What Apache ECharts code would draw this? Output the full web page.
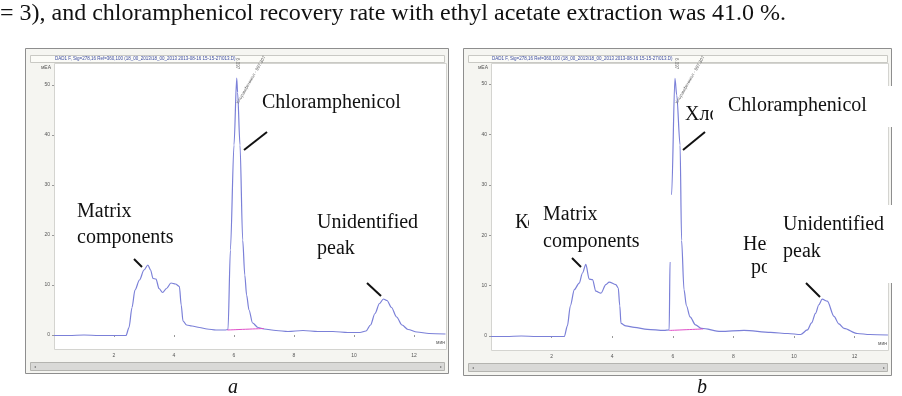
<!DOCTYPE html>
<html>
<head>
<meta charset="utf-8">
<script src="https://cdn.jsdelivr.net/npm/echarts@6/dist/echarts.min.js"></script>
<style>
  html, body { margin: 0; padding: 0; background: #fff; }
  #chart { width: 902px; height: 396px; }
</style>
</head>
<body>
<div id="chart"></div>
<script>
// chromatogram a (minutes, mAU)
const timeA = [0, 0.5, 1.0, 1.5, 2.0, 2.4, 2.5, 2.6, 2.7, 2.85, 3.0, 3.13, 3.22, 3.3, 3.4, 3.5, 3.62, 3.75, 3.9, 4.05, 4.18, 4.24, 4.3, 4.42, 4.6, 4.85, 5.1, 5.4, 5.7, 5.8, 5.88, 6.0, 6.09, 6.12, 6.2, 6.29, 6.36, 6.42, 6.5, 6.62, 6.8, 7.0, 7.4, 7.8, 8.3, 8.8, 9.3, 9.8, 10.2, 10.4, 10.55, 10.7, 10.85, 10.98, 11.1, 11.25, 11.42, 11.6, 11.8, 12.1, 12.5, 13.05]
const signalA = [-0.1, -0.1, 0, -0.1, -0.1, -0.1, 1.5, 5.5, 9.0, 11.0, 13.0, 14.0, 13.0, 11.3, 11.2, 9.3, 8.5, 9.3, 10.4, 10.2, 9.7, 6.0, 2.8, 2.0, 1.8, 1.5, 1.2, 1.0, 1.0, 1.1, 17, 38, 51.4, 48.5, 38, 19, 12, 8, 5, 2.4, 1.5, 1.2, 0.9, 0.7, 0.9, 0.7, 0.7, 0.5, 0.5, 0.8, 2.0, 4.3, 6.3, 7.2, 6.9, 5.5, 3.6, 2.0, 1.1, 0.6, 0.3, 0.2]
const baseTimeA = [5.78, 7.0]
const baseSignalA = [1.0, 1.3]

// chromatogram b
const timeB = [0, 0.5, 1.0, 1.5, 2.0, 2.42, 2.52, 2.62, 2.75, 2.91, 3.02, 3.13, 3.24, 3.35, 3.46, 3.63, 3.79, 3.9, 4.12, 4.2, 4.25, 4.29, 4.45, 4.73, 5.16, 5.71, 5.88, 5.91, 5.96, 6.07, 6.13, 6.24, 6.29, 6.37, 6.45, 6.57, 6.75, 6.95, 7.58, 8.35, 9.23, 9.8, 10.22, 10.44, 10.58, 10.71, 10.82, 10.93, 11.1, 11.32, 11.48, 11.65, 12.09, 12.5, 13.1]
const signalB = [-0.1, -0.1, 0, -0.1, -0.1, -0.1, 2.0, 6.0, 9.2, 10.5, 12.5, 14.2, 11.3, 11.2, 8.9, 8.5, 10.2, 10.7, 10.2, 9.5, 6.0, 2.5, 2.0, 1.7, 1.3, 1.1, 1.2, 15, 28, 51.1, 47.8, 37.9, 19, 9.2, 6.0, 3.8, 2.2, 1.5, 0.9, 1.1, 0.7, 0.5, 0.3, 1.2, 2.6, 4.5, 6.2, 7.3, 6.9, 3.9, 2.4, 1.5, 0.5, 0.3, 0.2]
const baseTimeB = [5.88, 7.0]
const baseSignalB = [1.1, 1.4]

// tick labels
const xTicks = [2, 4, 6, 8, 10, 12]
const yTicks = [0, 10, 20, 30, 40, 50]

const sentence = '= 3), and chloramphenicol recovery rate with ethyl acetate extraction was 41.0 %.'
const headerText = 'DAD1 F, Sig=278,16 Ref=360,100 (18_00_2013\\18_00_2013 2013-08-16 15-15-27\\013.D)'
const peakTime = '6.097'
const peakName = 'Хлорамфеникол - 997.307'

const chart = echarts.init(document.getElementById('chart'))

const serif = '"Liberation Serif", "Times New Roman", serif'
const lineColor = '#7b80d8'

function pairs(xs, ys) {
  return xs.map(function(x, i) { return [x, ys[i]] })
}

function rect(x, y, w, h, fill, stroke, z) {
  return {type: 'rect', z: z, silent: true, shape: {x: x, y: y, width: w, height: h},
    style: {fill: fill, stroke: stroke || null, lineWidth: 1}}
}
function seg(x1, y1, x2, y2, color, w, z) {
  return {type: 'line', z: z, silent: true, shape: {x1: x1, y1: y1, x2: x2, y2: y2},
    style: {stroke: color, lineWidth: w}}
}
function label(text, x, y, opts) {
  opts = opts || {}
  return {type: 'text', z: opts.z || 50, silent: true, x: x, y: y, rotation: opts.rotation || 0,
    style: {text: text, font: opts.font || ('20px ' + serif), fill: opts.fill || '#111',
      textAlign: opts.align || 'left', textVerticalAlign: 'middle'}}
}

// window frame around a chromatogram
function frame(L, R, T, B, plotL, plotR, plotB, scrollT) {
  return [
    rect(L + 0.5, T + 0.5, R - L, B - T, '#f5f5f1', '#8e8e8e', -10),
    rect(L + 5.5, 55.5, R - L - 9, 7, '#fbfbf7', '#c9c9c4', -9),
    rect(plotL + 0.5, 63.5, plotR - plotL, plotB - 63, '#ffffff', '#d4d4d0', -9),
    rect(L + 5.5, scrollT + 0.5, R - L - 9, 8, '#d9d9d7', '#b4b4b0', -9),
    label(headerText, plotL + 1, 59, {font: '4.5px Arial', fill: '#3a4aa0', z: -8}),
    label('\u25C2', L + 9, scrollT + 4.5, {font: '4px Arial', fill: '#777', z: -8}),
    label('\u25B8', R - 8, scrollT + 4.5, {font: '4px Arial', fill: '#777', z: -8})
  ]
}

const graphics = [].concat(
  frame(25, 448, 48, 373, 54, 446, 349, 362),
  frame(463, 891, 48, 375, 491, 888, 350, 363),
  [
    label(sentence, 0, 14, {font: '24px ' + serif}),
    label('a', 233, 388, {font: 'italic 20px ' + serif, align: 'center'}),
    label('b', 702, 388, {font: 'italic 20px ' + serif, align: 'center'}),

    // tiny peak annotations
    label(peakTime, 237, 58, {font: '4.5px Arial', fill: '#666', rotation: -Math.PI / 2, z: 5}),
    label(peakName, 251, 80, {font: '4.5px Arial', fill: '#666', rotation: Math.PI / 3, align: 'center', z: 5}),
    label(peakTime, 676, 58, {font: '4.5px Arial', fill: '#666', rotation: -Math.PI / 2, z: 5}),
    label(peakName, 690, 80, {font: '4.5px Arial', fill: '#666', rotation: Math.PI / 3, align: 'center', z: 5}),

    // panel a labels
    label('Chloramphenicol', 262, 103),
    label('Matrix', 77, 212),
    label('components', 77, 238),
    label('Unidentified', 317, 223),
    label('peak', 317, 249),
    seg(244, 150, 267, 132, '#111', 2, 50),
    seg(134, 259, 142, 267, '#111', 2, 50),
    seg(367, 283, 381, 296, '#111', 2, 50),

    // panel b: original russian labels partly covered by white boxes
    label('Хлорамфеникол', 685, 115, {z: 40}),
    label('Компоненты', 515, 223, {z: 40}),
    label('Неидентифици-', 743, 245, {z: 40}),
    label('рованный пик', 751, 268, {z: 40}),
    rect(713, 86, 190, 41, '#ffffff', null, 45),
    rect(529, 195, 148, 67, '#ffffff', null, 45),
    rect(767, 205, 136, 78, '#ffffff', null, 45),
    label('Chloramphenicol', 728, 106),
    label('Matrix', 543, 215),
    label('components', 543, 242),
    label('Unidentified', 783, 225),
    label('peak', 783, 252),
    seg(683, 150, 705, 132, '#111', 2, 50),
    seg(572, 258, 581, 267, '#111', 2, 50),
    seg(806, 283, 820, 297, '#111', 2, 50)
  ]
)

function xAxisFor(gridIndex, max) {
  return {
    type: 'value', gridIndex: gridIndex, min: 0, max: max,
    name: 'мин', nameLocation: 'end', nameGap: -10,
    nameTextStyle: {fontSize: 5, color: '#555', verticalAlign: 'top', padding: [5, 0, 0, 0]},
    axisLine: {show: false},
    axisTick: {show: true, length: 2, inside: false, customValues: xTicks, lineStyle: {color: '#999'}},
    axisLabel: {fontSize: 5, color: '#555', margin: 4, customValues: xTicks},
    splitLine: {show: false}
  }
}
function yAxisFor(gridIndex, min, max) {
  return {
    type: 'value', gridIndex: gridIndex, min: min, max: max,
    name: 'мЕА', nameLocation: 'end', nameGap: -7,
    nameTextStyle: {fontSize: 5, color: '#555', align: 'right', padding: [0, 3, 0, 0]},
    axisLine: {show: false},
    axisTick: {show: true, length: 2, customValues: yTicks, lineStyle: {color: '#999'}},
    axisLabel: {fontSize: 5, color: '#555', margin: 4, customValues: yTicks},
    splitLine: {show: false}
  }
}

function trace(idx, data, color, width) {
  return {
    type: 'line', xAxisIndex: idx, yAxisIndex: idx, data: data, symbol: 'none',
    smooth: 0.3, smoothMonotone: 'x', silent: true, z: 3,
    lineStyle: {color: color, width: width}
  }
}

const option = {
  animation: false,
  backgroundColor: '#fff',
  grid: [
    {left: 54, top: 63, width: 392, height: 286},
    {left: 491, top: 63, width: 397, height: 287}
  ],
  xAxis: [xAxisFor(0, 392 / 30), xAxisFor(1, 397 / 30.3)],
  yAxis: [yAxisFor(0, -2.8, 54.4), yAxisFor(1, -14 / 5.04, 273 / 5.04)],
  series: [
    trace(0, pairs(timeA, signalA), lineColor, 1.2),
    trace(0, pairs(baseTimeA, baseSignalA), '#e04fc8', 1),
    trace(1, pairs(timeB, signalB), lineColor, 1.2),
    trace(1, pairs(baseTimeB, baseSignalB), '#e04fc8', 1)
  ],
  graphic: {elements: graphics}
}

chart.setOption(option)
</script>
</body>
</html>
